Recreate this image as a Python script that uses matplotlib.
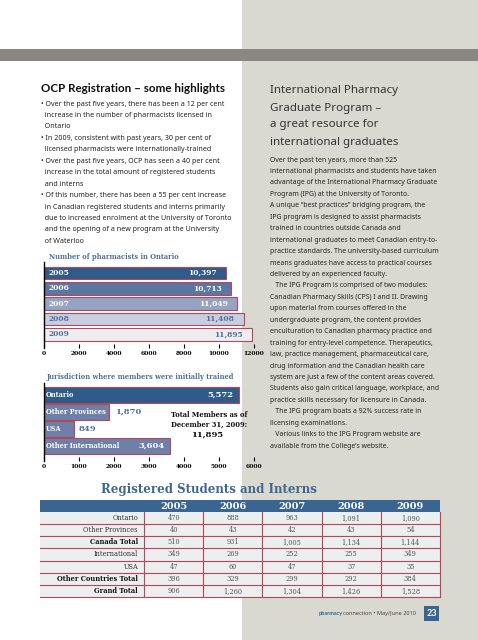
import matplotlib
matplotlib.use("Agg")
import matplotlib.pyplot as plt
from matplotlib.patches import Rectangle

# ---- data -------------------------------------------------------------
years = ["2005", "2006", "2007", "2008", "2009"]
pharmacists = [10397, 10713, 11049, 11408, 11895]

jurisdictions = ["Ontario", "Other Provinces", "USA", "Other International"]
members = [5572, 1870, 849, 3604]
total_members = 11895

table_rows = ["Ontario", "Other Provinces", "Canada Total", "International",
              "USA", "Other Countries Total", "Grand Total"]
bold_rows = ["Canada Total", "Other Countries Total", "Grand Total"]
ontario_st = [470, 888, 963, 1091, 1090]
other_prov_st = [40, 43, 42, 43, 54]
canada_tot = [510, 931, 1005, 1134, 1144]
internat_st = [349, 269, 252, 255, 349]
usa_st = [47, 60, 47, 37, 35]
other_ctry_tot = [396, 329, 299, 292, 384]
grand_tot = [906, 1260, 1304, 1426, 1528]
table_values = [ontario_st, other_prov_st, canada_tot, internat_st,
                usa_st, other_ctry_tot, grand_tot]

highlights = [
    "\u2022 Over the past five years, there has been a 12 per cent",
    "  increase in the number of pharmacists licensed in",
    "  Ontario",
    "\u2022 In 2009, consistent with past years, 30 per cent of",
    "  licensed pharmacists were internationally-trained",
    "\u2022 Over the past five years, OCP has seen a 40 per cent",
    "  increase in the total amount of registered students",
    "  and interns",
    "\u2022 Of this number, there has been a 55 per cent increase",
    "  in Canadian registered students and interns primarily",
    "  due to increased enrolment at the University of Toronto",
    "  and the opening of a new program at the University",
    "  of Waterloo",
]
ipg_title = ["International Pharmacy", "Graduate Program \u2013",
             "a great resource for", "international graduates"]
ipg_body = [
    "Over the past ten years, more than 525",
    "international pharmacists and students have taken",
    "advantage of the International Pharmacy Graduate",
    "Program (IPG) at the University of Toronto.",
    "A unique \u201cbest practices\u201d bridging program, the",
    "IPG program is designed to assist pharmacists",
    "trained in countries outside Canada and",
    "international graduates to meet Canadian entry-to-",
    "practice standards. The university-based curriculum",
    "means graduates have access to practical courses",
    "delivered by an experienced faculty.",
    "   The IPG Program is comprised of two modules:",
    "Canadian Pharmacy Skills (CPS) I and II. Drawing",
    "upon material from courses offered in the",
    "undergraduate program, the content provides",
    "enculturation to Canadian pharmacy practice and",
    "training for entry-level competence. Therapeutics,",
    "law, practice management, pharmaceutical care,",
    "drug information and the Canadian health care",
    "system are just a few of the content areas covered.",
    "Students also gain critical language, workplace, and",
    "practice skills necessary for licensure in Canada.",
    "   The IPG program boats a 92% success rate in",
    "licensing examinations.",
    "   Various links to the IPG Program website are",
    "available from the College\u2019s website.",
]

# ---- style ------------------------------------------------------------
W, H = 478, 640
SANS = "Noto Sans"
SANS_BOLD = "Lato"
SERIF = "DejaVu Serif"
DARK_BLUE = "#2f5b88"
TITLE_BLUE = "#4d7199"
EDGE_RED = "#b4475a"
PANEL = "#d9d9d1"

fig = plt.figure(figsize=(W / 100, H / 100), dpi=100)
bg = fig.add_axes([0, 0, 1, 1])
bg.set_xlim(0, W); bg.set_ylim(H, 0); bg.axis("off")

bg.add_patch(Rectangle((242, 0), W - 242, H, color=PANEL, lw=0))
bg.add_patch(Rectangle((0, 49), W, 12, color="#8a8682", lw=0))

# left column text
bg.text(41, 89, "OCP Registration \u2013 some highlights", fontsize=8.4,
        fontweight="bold", family=SANS_BOLD, va="center", color="#111")
for i, line in enumerate(highlights):
    bg.text(41, 104 + 11.45 * i, line, fontsize=5.1, family=SANS,
            va="center", color="#222")

# right column text
for i, line in enumerate(ipg_title):
    bg.text(270, 91 + 17 * i, line, fontsize=8.3, family=SANS,
            va="center", color="#333")
for i, line in enumerate(ipg_body):
    bg.text(270, 160 + 11.45 * i, line, fontsize=4.98, family=SANS,
            va="center", color="#222")


def px_axes(x0, y0, x1, y1):
    ax = fig.add_axes([x0 / W, 1 - y1 / H, (x1 - x0) / W, (y1 - y0) / H])
    ax.patch.set_visible(False)
    return ax


def style_bar_axes(ax, xmax, step):
    ax.set_xlim(0, xmax)
    ax.set_xticks(range(0, xmax + 1, step))
    ax.tick_params(axis="x", direction="in", length=3, width=0.8, pad=2,
                   labelsize=4.3)
    for lab in ax.get_xticklabels():
        lab.set_fontfamily(SERIF); lab.set_fontweight("bold")
    ax.set_yticks([])
    for s in ("top", "right", "bottom"):
        ax.spines[s].set_visible(False)
    ax.spines["left"].set_linewidth(1.0)


# ---- chart 1: number of pharmacists -------------------------------------
bg.text(49, 257, "Number of pharmacists in Ontario", fontsize=4.9,
        fontweight="bold", family=SERIF, color=TITLE_BLUE, va="center")
ax1 = px_axes(44, 262, 254, 348)
fills1 = ["#2f5b88", "#5a77a2", "#95a4c3", "#c8cee1", "#ededef"]
txt1 = ["white", "white", "white", TITLE_BLUE, TITLE_BLUE]
ypos = list(range(len(years)))
ax1.barh(ypos, pharmacists, height=0.82, color=fills1,
         edgecolor=EDGE_RED, linewidth=0.8, clip_on=False)
ax1.set_ylim(4.9, -0.72)
for y, yr, v, c in zip(ypos, years, pharmacists, txt1):
    ax1.text(250, y, yr, color=c, fontsize=5.4, fontweight="bold",
             family=SERIF, va="center", ha="left")
    ax1.text(v - 550, y, f"{v:,}", color=c, fontsize=5.4, fontweight="bold",
             family=SERIF, va="center", ha="right")
style_bar_axes(ax1, 12000, 2000)

# ---- chart 2: jurisdiction ----------------------------------------------
bg.text(47, 377, "Jurisdiction where members were initially trained",
        fontsize=4.9, fontweight="bold", family=SERIF, color=TITLE_BLUE,
        va="center")
ax2 = px_axes(44, 383, 254, 461)
fills2 = [DARK_BLUE, "#6e80a8", "#6e80a8", "#6e80a8"]
jpos = list(range(len(jurisdictions)))
ax2.barh(jpos, members, height=0.92, color=fills2, edgecolor=EDGE_RED,
         linewidth=0.8)
ax2.set_ylim(3.88, -0.7)
for y, name, v in zip(jpos, jurisdictions, members):
    ax2.text(60, y, name, color="white", fontsize=4.8, fontweight="bold",
             family=SERIF, va="center", ha="left")
    if v > 3000:
        ax2.text(v - 170, y, f"{v:,}", color="white", fontsize=6,
                 fontweight="bold", family=SERIF, va="center", ha="right")
    else:
        ax2.text(v + 150, y, f"{v:,}", color=TITLE_BLUE, fontsize=6,
                 fontweight="bold", family=SERIF, va="center", ha="left")
style_bar_axes(ax2, 6000, 1000)
bg.text(209, 420, "Total Members as of\nDecember 31, 2009:", fontsize=4.9,
        fontweight="bold", family=SERIF, ha="center", va="center",
        linespacing=1.35, color="#111")
bg.text(207, 435, f"{total_members:,}", fontsize=6, fontweight="bold",
        family=SERIF, ha="center", va="center", color="#111")

# ---- table ---------------------------------------------------------------
bg.text(209, 490, "Registered Students and Interns", fontsize=8.5,
        fontweight="bold", family=SERIF, color="#3f6792", ha="center",
        va="center")
tx0, tlab, tx1 = 40, 144, 440
hy0, hy1 = 500, 512
rh = (597 - 512) / len(table_rows)
cw = (tx1 - tlab) / len(years)
bg.add_patch(Rectangle((tx0, hy0), tx1 - tx0, hy1 - hy0, color="#3a6591", lw=0))
for j, yr in enumerate(years):
    bg.text(tlab + cw * (j + 0.5), (hy0 + hy1) / 2 + 0.5, yr, color="white",
            fontsize=7, fontweight="bold", family=SERIF, ha="center",
            va="center")
for i, (name, vals) in enumerate(zip(table_rows, table_values)):
    y0 = hy1 + rh * i
    bg.add_patch(Rectangle((tx0, y0), tx1 - tx0, rh, facecolor="#eceeef",
                           edgecolor="none"))
    bg.plot([tx0, tx1], [y0 + rh, y0 + rh], color=EDGE_RED, lw=0.8)
    isb = name in bold_rows
    bg.text(tlab - 6, y0 + rh / 2, name, fontsize=4.8,
            fontweight="bold" if isb else "normal", family=SERIF,
            color="#111" if isb else "#333", ha="right", va="center")
    for j, v in enumerate(vals):
        bg.text(tlab + cw * (j + 0.5), y0 + rh / 2, f"{v:,}", fontsize=4.8,
                family=SERIF, color="#555", ha="center", va="center")
for k in range(len(years) + 1):
    x = tlab + cw * k
    bg.plot([x, x], [hy1, 597], color=EDGE_RED, lw=0.8)

# ---- footer --------------------------------------------------------------
bg.text(343, 613.5, "pharmacy", fontsize=4.0, family=SANS_BOLD,
        fontweight="bold", color="#3a6591", ha="right", va="center")
bg.text(343, 613.5, "connection \u2022 May/June 2010", fontsize=4.0,
        family=SANS, color="#444", ha="left", va="center")
bg.add_patch(Rectangle((424, 606), 15, 15, color="#3a6591", lw=0))
bg.text(431.5, 613.5, "23", fontsize=6.5, fontweight="bold", family=SANS_BOLD,
        color="white", ha="center", va="center")

fig.savefig("out.png", dpi=100)
